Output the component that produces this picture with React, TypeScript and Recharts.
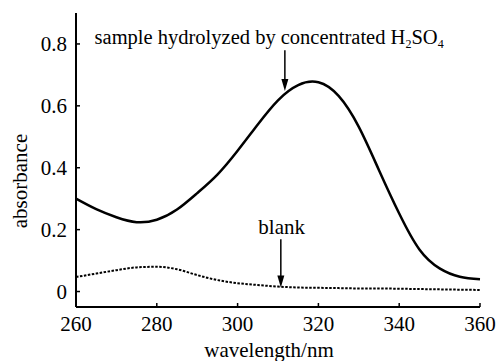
import {
  LineChart,
  Line,
  XAxis,
  YAxis,
  ReferenceLine,
  ReferenceDot,
  Label,
} from "recharts";

const FONT = "Liberation Serif";
const textStyle = { fontFamily: FONT, fontSize: 21, fill: "#000" };

const wavelengths = [
  260, 265, 270, 275, 280, 285, 290, 295, 300, 305, 310, 315, 320, 325, 330,
  335, 340, 345, 350, 355, 360,
];
const sampleAbs = [
  0.3, 0.266, 0.24, 0.224, 0.232, 0.265, 0.318, 0.378, 0.455, 0.54, 0.618,
  0.667, 0.676, 0.632, 0.532, 0.392, 0.252, 0.136, 0.075, 0.048, 0.04,
];
const blankAbs = [
  0.047, 0.058, 0.069, 0.078, 0.08, 0.072, 0.053, 0.037, 0.027, 0.021, 0.016,
  0.013, 0.012, 0.011, 0.01, 0.01, 0.009, 0.008, 0.007, 0.006, 0.005,
];
const xTicks = [260, 280, 300, 320, 340, 360];
const yTicks = [0, 0.2, 0.4, 0.6, 0.8];

// annotation anchors, in data units
const sampleArrow = { x: 311.7, from: 0.78, to: 0.648 };
const blankArrow = { x: 310.7, from: 0.169, to: 0.013 };
const sampleText = { x: 307.8, y: 0.8 };
const blankText = { x: 310.9, y: 0.185 };

const data = wavelengths.map((w, i) => ({
  w,
  sample: sampleAbs[i],
  blank: blankAbs[i],
}));

function BottomTick({ x, y, payload }: any) {
  return (
    <g>
      <line x1={x} y1={y} x2={x} y2={y - 4} stroke="#000" strokeWidth={1.5} />
      <text x={x} y={y + 24} textAnchor="middle" fontFamily={FONT} style={textStyle}>
        {payload.value}
      </text>
    </g>
  );
}

function LeftTick({ x, y, payload }: any) {
  return (
    <g>
      <line x1={x} y1={y} x2={x + 4} y2={y} stroke="#000" strokeWidth={1.5} />
      <text x={x - 9} y={y + 7} textAnchor="end" fontFamily={FONT} style={textStyle}>
        {payload.value === 0 ? "0" : payload.value.toFixed(1)}
      </text>
    </g>
  );
}

function RightTick({ x, y }: any) {
  return <line x1={x} y1={y} x2={x - 3} y2={y} stroke="#444" strokeWidth={1} />;
}

function TopTick({ x, y }: any) {
  return <line x1={x} y1={y} x2={x} y2={y + 3} stroke="#444" strokeWidth={1} />;
}

function Arrow({ x1, y1, x2, y2 }: any) {
  return (
    <g>
      <line x1={x1} y1={y1} x2={x2} y2={y2 - 8} stroke="#000" strokeWidth={1.5} />
      <path d={`M${x2 - 3.5},${y2 - 12} L${x2 + 3.5},${y2 - 12} L${x2},${y2} Z`} fill="#000" />
    </g>
  );
}

function SampleLabel({ cx, cy }: any) {
  return (
    <text x={cx} y={cy} textAnchor="middle" fontFamily={FONT} style={{ ...textStyle, fontSize: 20.5 }}>
      sample hydrolyzed by concentrated H
      <tspan style={{ fontSize: 12 }} dy={4}>2</tspan>
      <tspan dy={-4}>SO</tspan>
      <tspan style={{ fontSize: 12 }} dy={4}>4</tspan>
    </text>
  );
}

function BlankLabel({ cx, cy }: any) {
  return (
    <text x={cx} y={cy} textAnchor="middle" fontFamily={FONT} style={textStyle}>
      blank
    </text>
  );
}

export default function App() {
  return (
    <div style={{ position: "absolute", left: 0, top: 0, width: 499, height: 361, background: "#fff", fontFamily: FONT }}>
      <LineChart
        width={499}
        height={361}
        data={data}
        margin={{ top: 13, right: 19, bottom: 0, left: 0 }}
      >
        <XAxis
          dataKey="w"
          type="number"
          domain={[260, 360]}
          ticks={xTicks}
          height={54}
          tickSize={0}
          tickMargin={0}
          tick={<BottomTick />}
          axisLine={{ stroke: "#000", strokeWidth: 2 }}
          tickLine={false}
        >
          <Label
            content={() => (
              <text x={269} y={357} textAnchor="middle" fontFamily={FONT} style={textStyle}>
                wavelength/nm
              </text>
            )}
          />
        </XAxis>
        <XAxis
          xAxisId="t"
          dataKey="w"
          type="number"
          orientation="top"
          domain={[260, 360]}
          ticks={xTicks}
          height={0}
          tickSize={0}
          tickMargin={0}
          tick={<TopTick />}
          axisLine={{ stroke: "#222", strokeWidth: 1.2 }}
          tickLine={false}
        />
        <YAxis
          type="number"
          domain={[-0.05, 0.9]}
          ticks={yTicks}
          width={76}
          allowDataOverflow
          tickSize={0}
          tickMargin={0}
          tick={<LeftTick />}
          axisLine={{ stroke: "#000", strokeWidth: 2 }}
          tickLine={false}
        >
          <Label
            content={() => (
              <text
                transform="translate(27,181) rotate(-90)"
                textAnchor="middle"
                fontFamily={FONT}
                style={textStyle}
              >
                absorbance
              </text>
            )}
          />
        </YAxis>
        <YAxis
          yAxisId="r"
          orientation="right"
          type="number"
          domain={[-0.05, 0.9]}
          ticks={yTicks}
          width={0}
          allowDataOverflow
          tickSize={0}
          tickMargin={0}
          tick={<RightTick />}
          axisLine={{ stroke: "#222", strokeWidth: 1.2 }}
          tickLine={false}
        />
        <Line
          dataKey="sample"
          type="natural"
          stroke="#000"
          strokeWidth={2.5}
          dot={false}
          isAnimationActive={false}
        />
        <Line
          dataKey="blank"
          type="monotone"
          stroke="#000"
          strokeWidth={2}
          strokeDasharray="2.5 1.5"
          dot={false}
          isAnimationActive={false}
        />
        <ReferenceLine
          segment={[
            { x: sampleArrow.x, y: sampleArrow.from },
            { x: sampleArrow.x, y: sampleArrow.to },
          ]}
          shape={<Arrow />}
        />
        <ReferenceLine
          segment={[
            { x: blankArrow.x, y: blankArrow.from },
            { x: blankArrow.x, y: blankArrow.to },
          ]}
          shape={<Arrow />}
        />
        <ReferenceDot x={sampleText.x} y={sampleText.y} r={0} shape={<SampleLabel />} />
        <ReferenceDot x={blankText.x} y={blankText.y} r={0} shape={<BlankLabel />} />
      </LineChart>
    </div>
  );
}
